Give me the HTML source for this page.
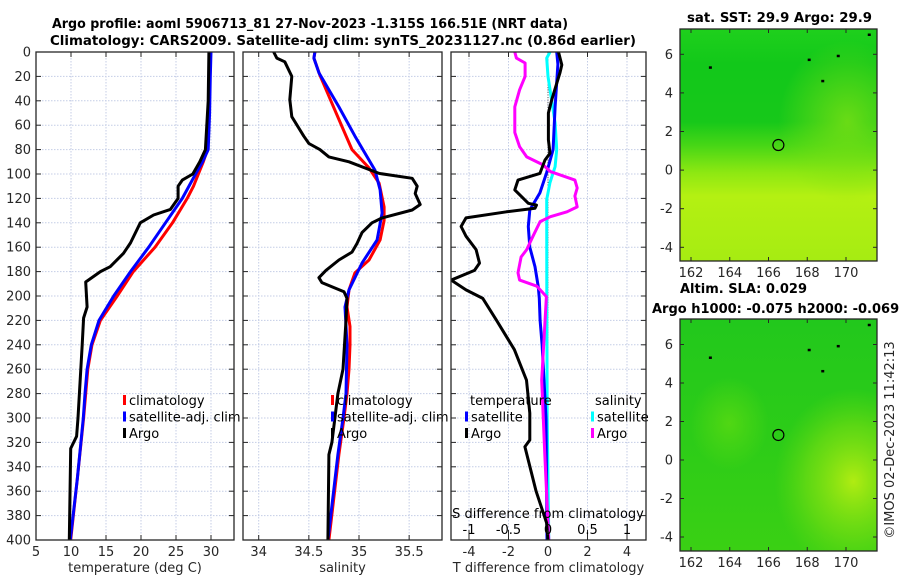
<!DOCTYPE html>
<html><head><meta charset="utf-8"><style>
html,body{margin:0;padding:0;background:#fff;}
svg{display:block;font-family:"DejaVu Sans","Liberation Sans",sans-serif;}
</style></head><body>
<svg id="fig" width="900" height="580" viewBox="0 0 900 580" xmlns="http://www.w3.org/2000/svg">
<defs>
<linearGradient id="sstGrad" x1="0" y1="0" x2="0" y2="1">
<stop offset="0" stop-color="#1fd01c"/><stop offset="0.15" stop-color="#12c81a"/><stop offset="0.4" stop-color="#17c81a"/>
<stop offset="0.5" stop-color="#46d616"/><stop offset="0.62" stop-color="#8ee812"/><stop offset="0.72" stop-color="#b4f012"/><stop offset="1" stop-color="#a6ec12"/>
</linearGradient>
<radialGradient id="sstPatch" cx="0.85" cy="0.4" r="0.35"><stop offset="0" stop-color="#7ee014" stop-opacity="0.8"/><stop offset="1" stop-color="#7ee014" stop-opacity="0"/></radialGradient>
<linearGradient id="slaGrad" x1="0" y1="0" x2="0" y2="1">
<stop offset="0" stop-color="#22c81c"/><stop offset="0.5" stop-color="#2ccc18"/><stop offset="1" stop-color="#3ad014"/>
</linearGradient>
<radialGradient id="slaPatch" cx="0.88" cy="0.7" r="0.4"><stop offset="0" stop-color="#b0ec12"/><stop offset="0.6" stop-color="#70dc12" stop-opacity="0.7"/><stop offset="1" stop-color="#60d812" stop-opacity="0"/></radialGradient>
<radialGradient id="slaPatch2" cx="0.25" cy="0.45" r="0.2"><stop offset="0" stop-color="#5ada12" stop-opacity="0.8"/><stop offset="1" stop-color="#5ada12" stop-opacity="0"/></radialGradient>
<clipPath id="c1"><rect x="36" y="52" width="198" height="488"/></clipPath>
<clipPath id="c2"><rect x="243" y="52" width="199" height="488"/></clipPath>
<clipPath id="c3"><rect x="451" y="52" width="195" height="488"/></clipPath>
</defs>
<g id="titles" font-weight="bold" font-size="13" fill="#000">
<text x="52" y="28" textLength="516" lengthAdjust="spacingAndGlyphs">Argo profile: aoml 5906713_81 27-Nov-2023 -1.315S 166.51E (NRT data)</text>
<text x="50" y="45" textLength="586" lengthAdjust="spacingAndGlyphs">Climatology: CARS2009. Satellite-adj clim: synTS_20231127.nc (0.86d earlier)</text>
<text x="687" y="22" textLength="185" lengthAdjust="spacingAndGlyphs">sat. SST: 29.9 Argo: 29.9</text>
<text x="680" y="293" textLength="127" lengthAdjust="spacingAndGlyphs">Altim. SLA: 0.029</text>
<text x="652" y="313">Argo h1000: -0.075 h2000: -0.069</text>
</g>
<g id="plots"></g>
<g id="maps"></g>
<text transform="translate(894,440) rotate(-90)" text-anchor="middle" font-size="13" fill="#262626">©IMOS 02-Dec-2023 11:42:13</text>
</svg>
<script>
// ---- data ----
const depthTicks = [0,20,40,60,80,100,120,140,160,180,200,220,240,260,280,300,320,340,360,380,400];
const tempTicks = [5,10,15,20,25,30];
const salTicks = [34,34.5,35,35.5];
const tdiffTicks = [-4,-2,0,2,4];
const sdiffTicks = [-1,-0.5,0,0.5,1];
const sdiffTickLabels = ["-1","-0.5","0","0.5","1"];

const tClimDepth = [0,20,50,80,90,100,110,120,140,160,180,200,220,240,260,280,300,350,400];
const tClimVal =   [29.9,29.85,29.7,29.5,28.9,28.2,27.5,26.6,24.5,22.0,18.9,16.6,14.2,13.0,12.4,12.1,11.8,10.9,9.95];
const tSatDepth = [0,20,50,80,90,100,120,140,160,180,200,220,240,260,280,300,350,400];
const tSatVal =   [30.0,29.9,29.8,29.6,28.8,27.8,25.9,23.5,21.1,18.5,16.1,14.0,12.9,12.3,12.0,11.75,10.9,9.9];
const tArgoDepth = [0,40,60,80,90,100,105,110,120,129,133.6,140,156.5,165,176,180,188.5,209,218,240,280,300,315,325,400];
const tArgoVal =   [29.7,29.6,29.4,29.2,28.4,27.4,25.9,25.3,25.3,24.2,21.8,19.9,18.5,17.5,15.6,14.2,12.1,12.3,11.8,11.6,11.2,11.0,10.8,9.95,9.75];

const sClimDepth = [0,5,19,42,61,80,95,107.5,127,138,154,170.5,181,195,209,225,240,260,280,300,330,400];
const sClimVal =   [34.56,34.55,34.61,34.73,34.83,34.93,35.10,35.20,35.25,35.25,35.21,35.10,34.96,34.90,34.88,34.91,34.91,34.90,34.88,34.85,34.80,34.70];
const sSatDepth = [0,5,17,45,69,97,113,132,154,173,195,209,240,280,300,330,400];
const sSatVal =   [34.56,34.55,34.60,34.80,34.96,35.16,35.21,35.23,35.18,35.03,34.90,34.86,34.88,34.87,34.84,34.79,34.69];
const sArgoDepth = [0,5,8,20,39,53,69,75,80,86,90,99.5,103.5,110,116,125,129.5,136,140,148,157,164,170.5,179,185,189,196.5,202,220,260,280,320,330,400];
const sArgoVal =   [34.15,34.18,34.26,34.33,34.31,34.33,34.45,34.50,34.61,34.70,34.90,35.20,35.53,35.58,35.56,35.61,35.53,35.23,35.13,35.03,34.98,34.93,34.80,34.67,34.60,34.63,34.85,34.88,34.87,34.84,34.79,34.73,34.70,34.69];

const dtArgoDepth = [0,10.6,17,25.7,39,50,72,83,88.5,99.5,105,113,124,125.5,128,131,136,143,151,162,173,179,187,195,202,220,244,269,296,318,323.5,360,386,400];
const dtArgoVal =   [0.53,0.70,0.61,0.44,0.19,0.02,0.02,0.10,-0.15,-0.41,-1.52,-1.68,-1.0,-0.58,-0.66,-2.1,-4.15,-4.4,-4.15,-3.64,-3.47,-3.72,-4.9,-4.15,-3.3,-2.6,-1.7,-1.09,-0.92,-0.92,-1.17,-0.6,-0.07,0.0];
const dtSatDepth = [0,10,45,80,99,115.5,129.5,143,160,176,192.6,202,220,240,300,400];
const dtSatVal =   [0.44,0.5,0.36,0.26,-0.07,-0.41,-0.92,-1.0,-0.92,-0.66,-0.49,-0.44,-0.4,-0.3,-0.1,-0.05];
const dsSatDepth = [0,5,20,58,80,94,107,121,200,300,400];
const dsSatVal =   [0.025,-0.017,0.0,0.09,0.11,0.09,0.025,-0.017,-0.015,-0.01,0.01];
const dsArgoDepth = [0,5,9,20,31,45,66,77.6,86,92.6,98,105,111.5,118,127,131,135,139,151,162,168,181,187,192,200.5,269,330,400];
const dsArgoVal =   [-0.42,-0.40,-0.29,-0.29,-0.36,-0.42,-0.42,-0.36,-0.27,-0.06,0.03,0.34,0.37,0.34,0.37,0.24,0.03,-0.10,-0.19,-0.27,-0.34,-0.38,-0.36,-0.14,-0.02,-0.08,-0.04,0.01];

const lonTicks = [162,164,166,168,170];
const latTicks = [-4,-2,0,2,4,6];
const argoLon = 166.51, argoLat = 1.3;

// ---- helpers ----
const NS = "http://www.w3.org/2000/svg";
function mk(tag, attrs, parent){const e=document.createElementNS(NS,tag);for(const k in attrs)e.setAttribute(k,attrs[k]);if(parent)parent.appendChild(e);return e;}
function lin(d0,d1,r0,r1){return v=>r0+(v-d0)*(r1-r0)/(d1-d0);}
const Y0=52,Y1=540;
const yD = lin(0,400,Y0,Y1);
const plots=document.getElementById('plots');
const TXT="#262626";

function panel(name,x0,x1,xs,xticks,xlabels,labelText,showY){
  const g=mk('g',{},plots);
  
  
  mk('rect',{x:x0,y:Y0,width:x1-x0,height:Y1-Y0,fill:'#fff'},g);
  depthTicks.forEach(d=>{
    const y=yD(d);
    if(d>0&&d<400){const l=mk('line',{x1:x0,x2:x1,y1:y,y2:y,stroke:'#c4cde6','stroke-width':1,'stroke-dasharray':'1.5,1.5'},g);}
    mk('line',{x1:x0,x2:x0+5,y1:y,y2:y,stroke:'#262626','stroke-width':1},g);
    mk('line',{x1:x1-5,x2:x1,y1:y,y2:y,stroke:'#262626','stroke-width':1},g);
    if(showY){const t=mk('text',{x:x0-5,y:y+4.5,'text-anchor':'end','font-size':13,fill:TXT},g);t.textContent=d;}
  });
  xticks.forEach((v,i)=>{
    const x=xs(v);
    const l=mk('line',{x1:x,x2:x,y1:Y0,y2:Y1,stroke:'#c4cde6','stroke-width':1,'stroke-dasharray':'1.5,1.5'},g);
    
    mk('line',{x1:x,x2:x,y1:Y1,y2:Y1-5,stroke:'#262626'},g);
    mk('line',{x1:x,x2:x,y1:Y0,y2:Y0+5,stroke:'#262626'},g);
    const t=mk('text',{x:x,y:Y1+16,'text-anchor':'middle','font-size':13,fill:TXT},g);t.textContent=xlabels[i];
    
  });
  const xl=mk('text',{x:(x0+x1)/2,y:572,'text-anchor':'middle','font-size':13,fill:TXT},g);xl.textContent=labelText;
  
  return g;
}
function frame(g,x0,x1){mk('rect',{x:x0,y:Y0,width:x1-x0,height:Y1-Y0,fill:'none',stroke:'#262626','stroke-width':1.3},g);}
function series(g,clip,depths,vals,xs,color,name,w){
  let d='';
  for(let i=0;i<depths.length;i++){d+=(i?'L':'M')+xs(vals[i]).toFixed(1)+','+yD(depths[i]).toFixed(1);}
  const p=mk('path',{d:d,fill:'none',stroke:color,'stroke-width':w||3,'stroke-linejoin':'round','clip-path':'url(#'+clip+')'},g);
  
  
}
function legend(g,x,y,items){
  items.forEach((it,i)=>{
    const yy=y+i*16.5;
    mk('rect',{x:x,y:yy-10,width:3,height:10,fill:it[1]},g);
    const t=mk('text',{x:x+6,y:yy,'font-size':13,fill:'#000'},g);t.textContent=it[0];
    
  });
}

// Panel 1
const xT=lin(5,30,36,211);
const g1=panel('temperature-panel',36,234,xT,tempTicks,tempTicks.map(String),'temperature (deg C)',true);
series(g1,'c1',tClimDepth,tClimVal,xT,'#ff0000','temp-climatology-line');
series(g1,'c1',tSatDepth,tSatVal,xT,'#0000ff','temp-satellite-line');
series(g1,'c1',tArgoDepth,tArgoVal,xT,'#000000','temp-argo-line');
legend(g1,123,405,[['climatology','#ff0000'],['satellite-adj. clim','#0000ff'],['Argo','#000']]);
frame(g1,36,234);

// Panel 2
const xS=lin(34,35,258.7,359);
const g2=panel('salinity-panel',243,442,xS,salTicks,['34','34.5','35','35.5'],'salinity',false);
series(g2,'c2',sClimDepth,sClimVal,xS,'#ff0000','sal-climatology-line');
series(g2,'c2',sSatDepth,sSatVal,xS,'#0000ff','sal-satellite-line');
series(g2,'c2',sArgoDepth,sArgoVal,xS,'#000000','sal-argo-line');
legend(g2,331,405,[['climatology','#ff0000'],['satellite-adj. clim','#0000ff'],['Argo','#000']]);
frame(g2,243,442);

// Panel 3
const xDT=lin(0,4,548,627);
const xDS=lin(0,1,548,627);
const g3=panel('difference-panel',451,646,xDT,tdiffTicks,tdiffTicks.map(String),'T difference from climatology',false);
mk('line',{x1:548,x2:548,y1:Y0,y2:Y1,stroke:'#555','stroke-width':1,'stroke-dasharray':'1,1.5'},g3);
series(g3,'c3',dsSatDepth,dsSatVal,xDS,'#00ffff','sdiff-satellite-line');
series(g3,'c3',dtSatDepth,dtSatVal,xDT,'#0000ff','tdiff-satellite-line');
series(g3,'c3',dsArgoDepth,dsArgoVal,xDS,'#ff00ff','sdiff-argo-line');
series(g3,'c3',dtArgoDepth,dtArgoVal,xDT,'#000000','tdiff-argo-line');
sdiffTicks.forEach((v,i)=>{
  const x=xDS(v);
  mk('line',{x1:x,x2:x,y1:Y1-5,y2:Y1-10,stroke:'#262626'},g3);
  const t=mk('text',{x:x,y:534,'text-anchor':'middle','font-size':13,fill:'#000'},g3);t.textContent=sdiffTickLabels[i];
  
});
const st=mk('text',{x:548,y:518,'text-anchor':'middle','font-size':13,fill:'#000'},g3);st.textContent='S difference from climatology';

const th=mk('text',{x:470,y:405,'font-size':13,fill:'#000'},g3);th.textContent='temperature';

const sh=mk('text',{x:595,y:405,'font-size':13,fill:'#000'},g3);sh.textContent='salinity';

legend(g3,465,421.5,[['satellite','#0000ff'],['Argo','#000']]);
legend(g3,591,421.5,[['satellite','#00ffff'],['Argo','#ff00ff']]);
frame(g3,451,646);

// ---- maps ----
const maps=document.getElementById('maps');
const MX0=680,MX1=877;
const mLon=lin(162,170,691,846);
function mapPanel(name,y0,y1,lat6,latm4,grad,patches){
  const g=mk('g',{},maps);
  
  
  const mLat=lin(6,-4,lat6,latm4);
  mk('rect',{x:MX0,y:y0,width:MX1-MX0,height:y1-y0,fill:'url(#'+grad+')'},g);
  patches.forEach(p=>mk('rect',{x:MX0,y:y0,width:MX1-MX0,height:y1-y0,fill:'url(#'+p+')'},g));
  [[163,5.3],[168.8,4.6],[169.6,5.9],[171.2,7.0],[168.1,5.7]].forEach(c=>{
    mk('rect',{x:mLon(c[0])-1.5,y:mLat(c[1])-1.5,width:3,height:2.5,fill:'#000'},g);
  });
  const mc=mk('circle',{cx:mLon(argoLon),cy:mLat(argoLat),r:5.5,fill:'none',stroke:'#000','stroke-width':1.2},g);
  
  mk('rect',{x:MX0,y:y0,width:MX1-MX0,height:y1-y0,fill:'none',stroke:'#262626','stroke-width':1.3},g);
  latTicks.forEach(v=>{
    const y=mLat(v);
    mk('line',{x1:MX0,x2:MX0+4,y1:y,y2:y,stroke:'#262626'},g);
    mk('line',{x1:MX1-4,x2:MX1,y1:y,y2:y,stroke:'#262626'},g);
    const t=mk('text',{x:MX0-7,y:y+4.5,'text-anchor':'end','font-size':13,fill:TXT},g);t.textContent=v;
    
  });
  lonTicks.forEach(v=>{
    const x=mLon(v);
    mk('line',{x1:x,x2:x,y1:y1,y2:y1-4,stroke:'#262626'},g);
    mk('line',{x1:x,x2:x,y1:y0,y2:y0+4,stroke:'#262626'},g);
    const t=mk('text',{x:x,y:y1+16,'text-anchor':'middle','font-size':13,fill:TXT},g);t.textContent=v;
    
  });
  return g;
}
mapPanel('sst-map',29,261,54.3,247.3,'sstGrad',['sstPatch']);
mapPanel('sla-map',319,551,344.5,537,'slaGrad',['slaPatch','slaPatch2']);
</script>
</body></html>
